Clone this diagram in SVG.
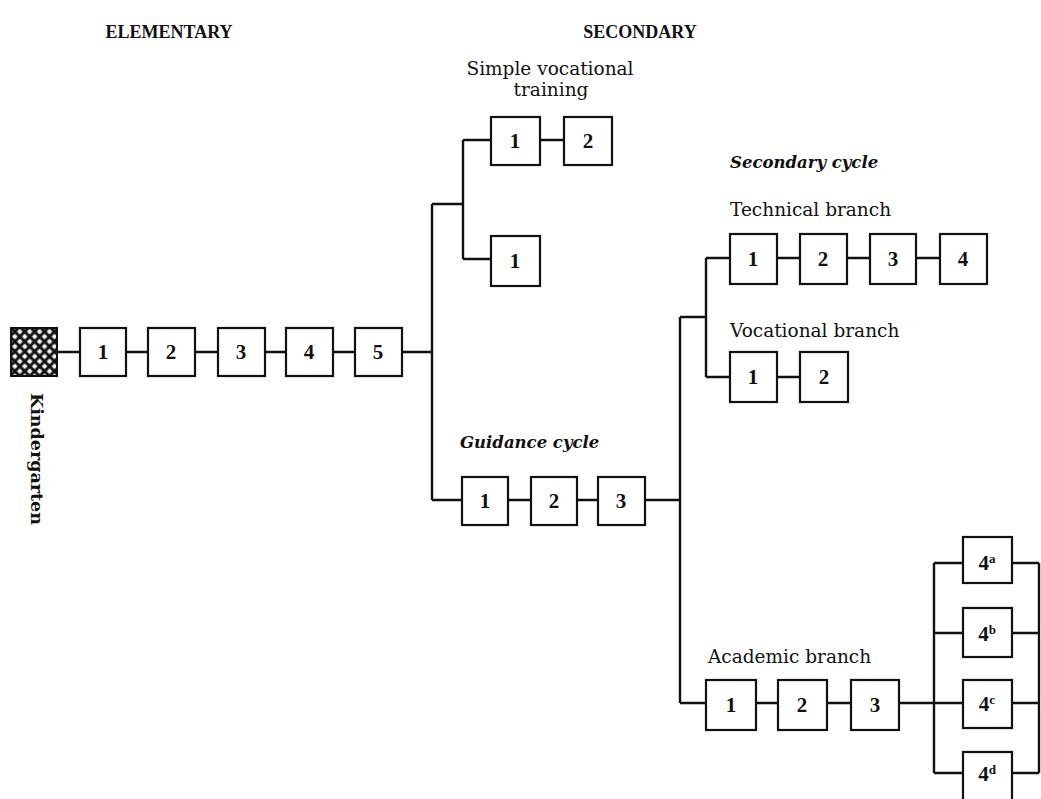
<svg xmlns="http://www.w3.org/2000/svg" width="1041" height="799" viewBox="0 0 1041 799">
<defs>
<pattern id="hatch" width="7" height="7" patternUnits="userSpaceOnUse" patternTransform="rotate(45)">
<rect width="7" height="7" fill="#111"/>
<rect x="1.5" y="1.5" width="4" height="4" fill="#fff"/>
</pattern>
<style>
.b{fill:#fff;stroke:#111;stroke-width:2.2}
.n{font-family:"Liberation Serif",serif;font-weight:bold;font-size:21px;fill:#111;text-anchor:middle}
.h{font-family:"Liberation Serif",serif;font-weight:bold;font-size:18px;fill:#111;text-anchor:middle}
.l{font-family:"DejaVu Serif",serif;font-size:18.5px;fill:#111}
.i{font-family:"DejaVu Serif",serif;font-style:italic;font-weight:bold;font-size:16.5px;fill:#111}
.c{fill:none;stroke:#111;stroke-width:2.4}
.s{font-size:13px}
</style>
</defs>
<rect width="1041" height="799" fill="#fff"/>
<g id="connectors">
<path class="c" d="M57 352H80M126 352H148M195 352H218M265 352H286M333 352H355M402 352H432"/>
<path class="c" d="M432 204V500M432 204H463M463 140V259M463 140H491M463 259H491M540 140H564"/>
<path class="c" d="M432 500H462M508 500H531M577 500H598M645 500H680"/>
<path class="c" d="M680 317V703M680 317H706M706 258V377M706 258H730M706 377H730M777 258H800M847 258H870M916 258H940M777 377H800"/>
<path class="c" d="M680 703H706M756 703H778M827 703H851M899 703H934"/>
<path class="c" d="M934 563V773M934 563H963M934 633H963M934 703H963M934 773H963M1012 563H1039M1012 633H1039M1012 703H1039M1012 773H1039M1039 563V773"/>
</g>
<g id="headings">
<text class="h" x="169" y="38">ELEMENTARY</text>
<text class="h" x="640" y="38">SECONDARY</text>
</g>
<g id="kindergarten">
<rect x="11" y="328" width="46" height="48" fill="url(#hatch)" stroke="#111" stroke-width="2"/>
<text transform="translate(31 393) rotate(90)" style="font-family:'DejaVu Serif',serif;font-weight:bold;font-size:17.5px;fill:#111">Kindergarten</text>
</g>
<g id="elem1"><rect class="b" x="80" y="328" width="46" height="48"/><text class="n" x="103" y="359">1</text></g>
<g id="elem2"><rect class="b" x="148" y="328" width="47" height="48"/><text class="n" x="171" y="359">2</text></g>
<g id="elem3"><rect class="b" x="218" y="328" width="47" height="48"/><text class="n" x="241" y="359">3</text></g>
<g id="elem4"><rect class="b" x="286" y="328" width="47" height="48"/><text class="n" x="309" y="359">4</text></g>
<g id="elem5"><rect class="b" x="355" y="328" width="47" height="48"/><text class="n" x="378" y="359">5</text></g>
<g id="simple-voc">
<text class="l" x="550" y="75" text-anchor="middle">Simple vocational</text>
<text class="l" x="551" y="96" text-anchor="middle">training</text>
</g>
<g id="sv1"><rect class="b" x="491" y="117" width="49" height="48"/><text class="n" x="515" y="148">1</text></g>
<g id="sv2"><rect class="b" x="564" y="117" width="48" height="48"/><text class="n" x="588" y="148">2</text></g>
<g id="sv1b"><rect class="b" x="491" y="236" width="49" height="50"/><text class="n" x="515" y="268">1</text></g>
<g id="guidance">
<text class="i" x="460" y="448">Guidance cycle</text>
</g>
<g id="g1"><rect class="b" x="462" y="477" width="46" height="48"/><text class="n" x="485" y="508">1</text></g>
<g id="g2"><rect class="b" x="531" y="477" width="46" height="48"/><text class="n" x="554" y="508">2</text></g>
<g id="g3"><rect class="b" x="598" y="477" width="47" height="48"/><text class="n" x="621" y="508">3</text></g>
<g id="secondary-cycle">
<text class="i" x="730" y="168">Secondary cycle</text>
<text class="l" x="730" y="216">Technical branch</text>
<text class="l" x="730" y="337">Vocational branch</text>
<text class="l" x="708" y="663">Academic branch</text>
</g>
<g id="t1"><rect class="b" x="730" y="234" width="47" height="50"/><text class="n" x="753" y="266">1</text></g>
<g id="t2"><rect class="b" x="800" y="234" width="47" height="50"/><text class="n" x="823" y="266">2</text></g>
<g id="t3"><rect class="b" x="870" y="234" width="46" height="50"/><text class="n" x="893" y="266">3</text></g>
<g id="t4"><rect class="b" x="940" y="234" width="47" height="50"/><text class="n" x="963" y="266">4</text></g>
<g id="v1"><rect class="b" x="730" y="352" width="47" height="50"/><text class="n" x="753" y="384">1</text></g>
<g id="v2"><rect class="b" x="800" y="352" width="48" height="50"/><text class="n" x="824" y="384">2</text></g>
<g id="a1"><rect class="b" x="706" y="680" width="50" height="50"/><text class="n" x="731" y="712">1</text></g>
<g id="a2"><rect class="b" x="778" y="680" width="49" height="50"/><text class="n" x="802" y="712">2</text></g>
<g id="a3"><rect class="b" x="851" y="680" width="48" height="50"/><text class="n" x="875" y="712">3</text></g>
<g id="a4a"><rect class="b" x="963" y="537" width="49" height="46"/><text class="n" x="987" y="570">4<tspan class="s" dy="-7">a</tspan></text></g>
<g id="a4b"><rect class="b" x="963" y="608" width="49" height="49"/><text class="n" x="987" y="641">4<tspan class="s" dy="-7">b</tspan></text></g>
<g id="a4c"><rect class="b" x="963" y="680" width="49" height="48"/><text class="n" x="987" y="711">4<tspan class="s" dy="-7">c</tspan></text></g>
<g id="a4d"><rect class="b" x="963" y="752" width="49" height="50"/><text class="n" x="987" y="781">4<tspan class="s" dy="-7">d</tspan></text></g>
</svg>
